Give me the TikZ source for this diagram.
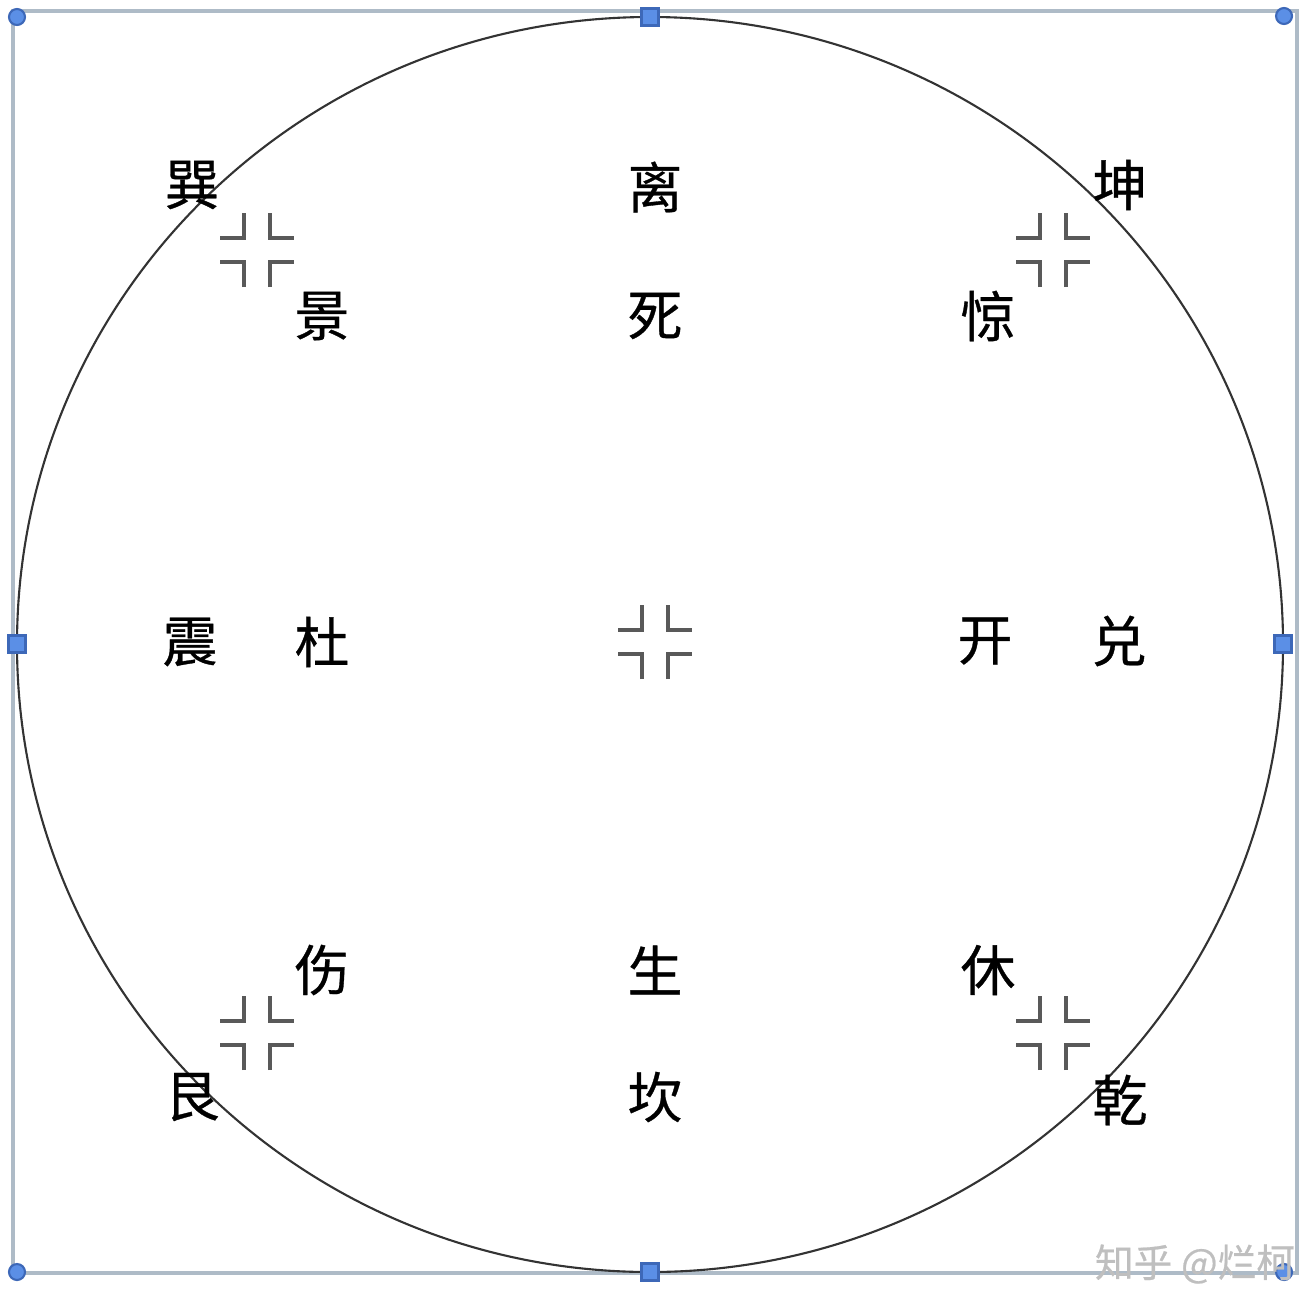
\documentclass[tikz,border=0pt]{standalone}
\usepackage{fontspec}
\newfontfamily\cjk[FakeBold=0.6]{Noto Sans CJK SC}
\definecolor{framegray}{HTML}{AEBBC7}
\definecolor{handleblue}{HTML}{5B8FE6}
\definecolor{handleedge}{HTML}{3D68B8}
\tikzset{
  gua/.style={font=\cjk\fontsize{15.6}{16}\selectfont, inner sep=0pt},
  menmark/.style={line width=1pt, black!65},
  handle/.style={fill=handleblue, draw=handleedge, line width=0.6pt},
}
\begin{document}
\begin{tikzpicture}[x=0.01cm, y=-0.01cm]
    \useasboundingbox (0,0) rectangle (1310,1288);
    \draw[framegray, line width=1pt] (13,11) rectangle (1297,1273);
    \draw[black!80, line width=0.6pt] (650,644.5) ellipse [x radius=633, y radius=627.5];
    % corner marks
    \foreach \cx/\cy in {257/250, 1053/250, 655/642, 257/1033, 1053/1033} {
        \draw[menmark] (\cx-13,\cy-37) -- (\cx-13,\cy-12) -- (\cx-37,\cy-12);
        \draw[menmark] (\cx+13,\cy-37) -- (\cx+13,\cy-12) -- (\cx+37,\cy-12);
        \draw[menmark] (\cx-13,\cy+37) -- (\cx-13,\cy+12) -- (\cx-37,\cy+12);
        \draw[menmark] (\cx+13,\cy+37) -- (\cx+13,\cy+12) -- (\cx+37,\cy+12);
    }
    % trigrams
    \node[gua] (xun) at (192,185) {巽};
    \node[gua] (li) at (655,187) {离};
    \node[gua] (kun) at (1120,185) {坤};
    \node[gua] (zhen) at (190,642) {震};
    \node[gua] (dui) at (1119,641) {兑};
    \node[gua] (gen) at (192,1097) {艮};
    \node[gua] (kan) at (655,1097) {坎};
    \node[gua] (qian) at (1120,1100) {乾};
    % doors
    \node[gua] (jingmen) at (322,316) {景};
    \node[gua] (simen) at (655,316) {死};
    \node[gua] (jingmen2) at (988,316) {惊};
    \node[gua] (dumen) at (322,642) {杜};
    \node[gua] (kaimen) at (985,641) {开};
    \node[gua] (shangmen) at (322,970) {伤};
    \node[gua] (shengmen) at (655,970) {生};
    \node[gua] (xiumen) at (988,970) {休};
    % selection handles
    \foreach \x/\y in {17/17, 1284/16, 17/1272, 1284/1272}
        \draw[handle] (\x,\y) circle (8);
    \foreach \x/\y in {650/17, 17/644, 1283/644, 650/1272}
        \draw[handle] (\x-8.5,\y-8.5) rectangle (\x+8.5,\y+8.5);
    \node[font=\cjk\fontsize{11}{12}\selectfont, text=black!25, inner sep=0pt] (mark) at (1195,1264) {知乎 @烂柯};
\end{tikzpicture}
\end{document}
